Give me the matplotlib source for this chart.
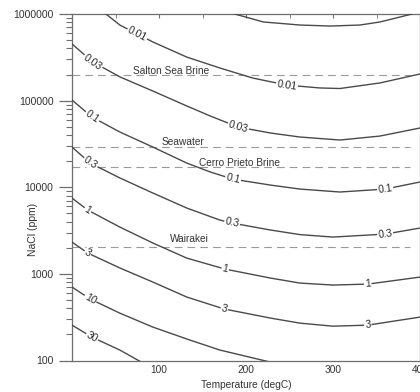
import numpy as np
import matplotlib
matplotlib.use('Agg')
import matplotlib.pyplot as plt
from matplotlib.ticker import MultipleLocator, LogLocator, NullFormatter

# contour lines: temperature (degC) and NaCl (ppm)
levels = ['0.003', '0.01', '0.03', '0.1', '0.3', '1', '3', '10', '30']

t_0003 = [187, 220, 262, 297, 331, 354, 391]
c_0003 = [1000000, 809000, 746000, 726000, 746000, 809000, 1000000]

t_001 = [39, 55, 93, 132, 170, 208, 247, 285, 308, 354, 400]
c_001 = [1000000, 746000, 475000, 318000, 238000, 182000, 151000, 140000, 138000, 160000, 203000]

t_003 = [0, 24, 55, 93, 132, 159, 191, 228, 262, 308, 354, 400]
c_003 = [451000, 279000, 188000, 129000, 86700, 66400, 49500, 42300, 38000, 35100, 39000, 48300]

t_01 = [0, 23, 55, 93, 132, 159, 185, 228, 262, 308, 360, 400]
c_01 = [101600, 64700, 43400, 29100, 19000, 15000, 12400, 10600, 9530, 8810, 9530, 11500]

t_03 = [0, 21, 55, 93, 132, 170, 184, 228, 262, 300, 360, 400]
c_03 = [29100, 19000, 12800, 8570, 5750, 4180, 3860, 3210, 2840, 2660, 2880, 3380]

t_1 = [0, 18, 55, 93, 132, 176, 228, 262, 300, 340, 400]
c_1 = [7500, 5460, 3470, 2270, 1520, 1135, 895, 783, 743, 762, 918]

t_3 = [0, 18, 55, 93, 132, 175, 228, 262, 300, 340, 400]
c_3 = [2330, 1740, 1170, 804, 540, 393, 309, 270, 249, 256, 317]

t_10 = [0, 21, 55, 93, 132, 170, 208, 224, 245]
c_10 = [705, 512, 352, 243, 177, 132, 107, 98, 88]

t_30 = [0, 23, 55, 78, 90]
c_30 = [256, 186, 132, 98, 86]

curves_t = [t_0003, t_001, t_003, t_01, t_03, t_1, t_3, t_10, t_30]
curves_c = [c_0003, c_001, c_003, c_01, c_03, c_1, c_3, c_10, c_30]

# where the level labels sit along each curve (degC)
label_t = [[], [75, 247], [24, 191], [23, 185, 360], [21, 184, 360],
           [18, 176, 340], [18, 175, 340], [21], [23]]

# reference fluids
fluid_names = ['Salton Sea Brine', 'Seawater', 'Cerro Prieto Brine', 'Wairakei']
fluid_ppm = [198000, 29100, 17100, 2060]
fluid_text_t = [70, 103, 146, 113]
fluid_text_ppm = [220000, 33300, 19000, 2520]

plt.rcParams['font.family'] = ['Liberation Sans', 'DejaVu Sans']
plt.rcParams['font.size'] = 7.5

line_col = '#4a4a4a'
axis_col = '#6e6e6e'
text_col = '#333333'

fig = plt.figure(figsize=(4.2, 3.92), dpi=100)
ax = fig.add_axes([72/420, 31.5/392, 348/420, 346.5/392])
ax.set_yscale('log')
ax.set_xlim(0, 400)
ax.set_ylim(100, 1000000)

for i in range(len(fluid_names)):
    ax.plot([0, 388], [fluid_ppm[i], fluid_ppm[i]], color='#9a9a9a', lw=0.8,
            dashes=[7, 4.5], zorder=1)
    ax.text(fluid_text_t[i], fluid_text_ppm[i], fluid_names[i], ha='left', va='center',
            color=text_col, fontsize=7.3, zorder=2)

for i in range(len(levels)):
    ax.plot(curves_t[i], curves_c[i], color=line_col, lw=1.0, zorder=3,
            solid_joinstyle='round')
    lt = np.log10(curves_c[i])
    for t in label_t[i]:
        y = 10 ** np.interp(t, curves_t[i], lt)
        p1 = ax.transData.transform((t - 4, 10 ** np.interp(t - 4, curves_t[i], lt)))
        p2 = ax.transData.transform((t + 4, 10 ** np.interp(t + 4, curves_t[i], lt)))
        ang = np.degrees(np.arctan2(p2[1] - p1[1], p2[0] - p1[0]))
        ax.text(t, y, levels[i], rotation=ang, rotation_mode='anchor',
                ha='center', va='center', color='#2a2a2a', fontsize=7.5,
                bbox=dict(fc='white', ec='none', pad=0.6), zorder=4)

for s in ax.spines.values():
    s.set_color(axis_col)
    s.set_linewidth(0.9)

ax.xaxis.set_major_locator(MultipleLocator(100))
ax.xaxis.set_minor_locator(MultipleLocator(50))
ax.tick_params(axis='x', which='both', bottom=False, top=True, direction='in',
               length=3, color=axis_col, labelsize=7.3, labelcolor=text_col, pad=3)
ax.set_xticks([100, 200, 300, 400])
ax.set_xticklabels(['100', '200', '300', '400'])

ax.yaxis.set_major_locator(LogLocator(base=10, numticks=10))
ax.yaxis.set_minor_locator(LogLocator(base=10, subs=np.arange(2, 10), numticks=10))
ax.yaxis.set_minor_formatter(NullFormatter())
ax.set_yticks([100, 1000, 10000, 100000, 1000000])
ax.set_yticklabels(['100', '1000', '10000', '100000', '1000000'])
ax.tick_params(axis='y', which='major', length=9.4, width=0.9, color=axis_col,
               labelsize=7.5, labelcolor=text_col, pad=4)
ax.tick_params(axis='y', which='minor', length=4.3, width=0.8, color=axis_col)

ax.set_xlabel('Temperature (degC)', fontsize=7.3, color=text_col, labelpad=4)
ax.set_ylabel('NaCl (ppm)', fontsize=7.5, color=text_col)
ax.yaxis.set_label_coords(-0.098, (361 - 230) / 346.5)

fig.savefig('out.png', dpi=100)
